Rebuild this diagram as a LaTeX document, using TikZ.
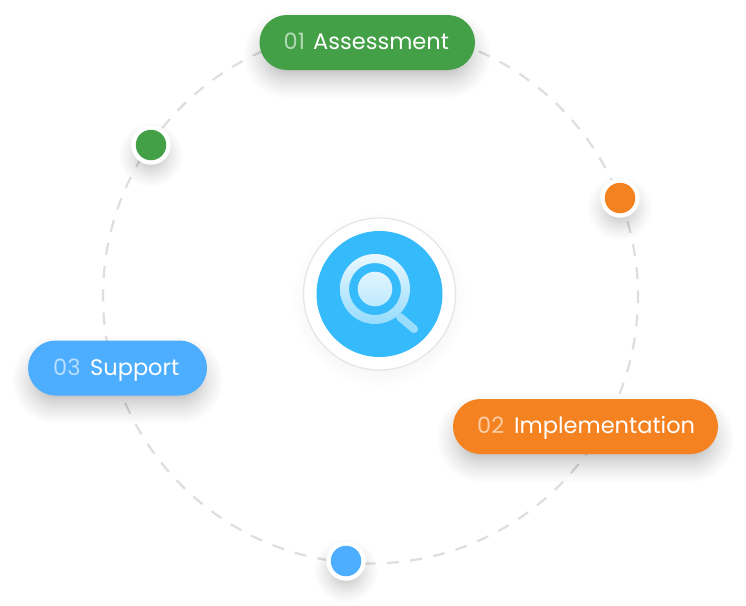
\documentclass[tikz,border=0pt]{standalone}
\usepackage{fontspec}
\setmainfont{Poppins}
\definecolor{greenP}{HTML}{43A047}
\definecolor{orangeP}{HTML}{F58220}
\definecolor{blueP}{HTML}{4DADFF}
\definecolor{coreB}{HTML}{35BBFB}
\definecolor{ringG}{HTML}{DEDEDE}
\newcommand{\softpill}[5]{% x1,y1,x2,y2,radius
  \foreach \s in {1,...,30}{
    \pgfmathsetmacro{\dd}{-16+34*(1-\s/30)^2}
    \fill[black,opacity=0.012,rounded corners={(#5+\dd)*1pt}]
      ({#1-\dd},{#2-\dd+12}) rectangle ({#3+\dd},{#4+\dd+12});
  }
}
\newcommand{\softdisc}[5]{% x,y,r,alpha,offset
  \foreach \s in {1,...,20}{
    \pgfmathsetmacro{\dd}{-14+28*(1-\s/20)^2}
    \fill[black,opacity=#4] (#1,{#2+#5}) circle ({#3+\dd});
  }
}
\tikzset{
  pill/.style={fill=#1,rounded corners=27.5pt,inner sep=0pt,minimum height=55pt},
  dotw/.style={circle,fill=white,minimum size=39.5pt,inner sep=0pt},
  dotc/.style={circle,fill=#1,minimum size=30.5pt,inner sep=0pt},
  numt/.style={anchor=base west,inner sep=0pt,text=white,text opacity=0.6,font=\fontsize{22.5}{26}\selectfont},
  wordt/.style={anchor=base west,inner sep=0pt,text=white,font=\fontsize{22.5}{26}\selectfont},
}
\begin{document}
\begin{tikzpicture}[x=1pt,y=-1pt]
\useasboundingbox (0,0) rectangle (746,605);
\fill[white] (0,0) rectangle (746,605);
\coordinate (C) at (370.5,296);
\draw[ringG,line width=2.2pt,dash pattern=on 12pt off 11.34pt,dash phase=6.5pt] (C) circle (267.5pt);
% shadows
\softpill{259.5}{15}{475}{70}{27.5}
\softpill{28}{340.5}{207}{395.5}{27.5}
\softpill{453}{399}{718}{454}{27.5}
\softdisc{151}{145}{20}{0.016}{10}
\softdisc{620}{198}{20}{0.016}{10}
\softdisc{346}{561}{20}{0.016}{10}
\softdisc{379.5}{294}{76}{0.0025}{6}
% centre
\node[circle,draw=black!10,line width=1.2pt,fill=white,minimum size=152pt,inner sep=0pt] (outer) at (379.5,294) {};
\node[circle,fill=coreB,minimum size=126pt,inner sep=0pt] (core) at (379.5,294) {};
\draw[line width=8pt,line cap=round,color=white!50!coreB] (400,317) -- (414,329);
\path[even odd rule,top color=white!90!coreB,bottom color=white!48!coreB] (375,289) circle (35pt) (375,289) circle (26pt);
\path[top color=white!85!coreB,bottom color=white!68!coreB] (375,289) circle (17.3pt);
% pills
\node[pill=greenP,minimum width=215.5pt] (p1) at (367.25,42.5) {};
\node[pill=blueP,minimum width=179pt] (p3) at (117.5,368) {};
\node[pill=orangeP,minimum width=265pt] (p2) at (585.5,426.5) {};
\node[numt] (t1a) at (283.5,49) {01};
\node[wordt] (t1b) at (313,49) {Assessment};
\node[numt] (t3a) at (53,375) {03};
\node[wordt] (t3b) at (90,375) {Support};
\node[numt] (t2a) at (477,433) {02};
\node[wordt] (t2b) at (514,433) {Implementation};
% dots
\node[dotw] (d1) at (151,145) {};
\node[dotc=greenP] (d1c) at (151,145) {};
\node[dotw] (d2) at (620,198) {};
\node[dotc=orangeP] (d2c) at (620,198) {};
\node[dotw] (d3) at (346,561) {};
\node[dotc=blueP] (d3c) at (346,561) {};
\end{tikzpicture}
\end{document}
